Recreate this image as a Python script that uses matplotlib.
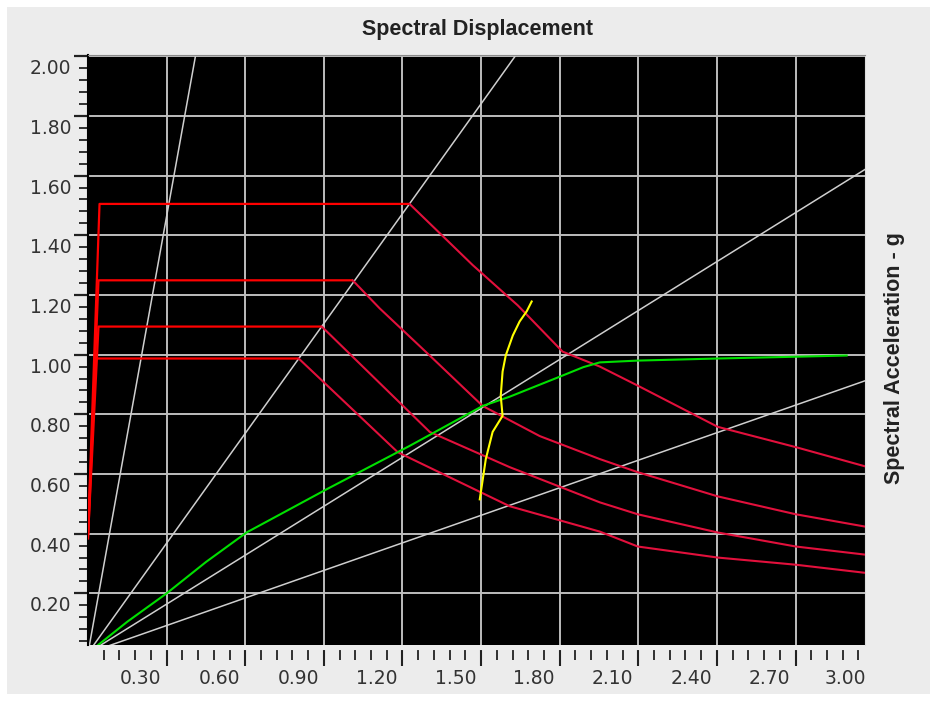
import matplotlib
matplotlib.use("Agg")
import numpy as np
import matplotlib.pyplot as plt
import matplotlib.transforms as mtrans
from matplotlib.patches import Rectangle
from matplotlib.ticker import MultipleLocator, FixedLocator, FormatStrFormatter

# demand spectra (Sd, Sa)
sd_a = [0.0, 0.044, 1.227, 1.468, 1.640, 1.811, 1.953, 2.098, 2.403, 2.701, 2.964]
sa_a = [0.40, 1.505, 1.505, 1.300, 1.165, 1.010, 0.960, 0.896, 0.758, 0.690, 0.626]
sd_b = [0.0, 0.040, 1.010, 1.113, 1.304, 1.506, 1.724, 1.953, 2.098, 2.403, 2.701, 2.964]
sa_b = [0.40, 1.249, 1.249, 1.155, 0.997, 0.828, 0.727, 0.650, 0.606, 0.525, 0.465, 0.424]
sd_c = [0.0, 0.040, 0.892, 1.304, 1.609, 1.953, 2.098, 2.403, 2.701, 2.964]
sa_c = [0.39, 1.094, 1.094, 0.741, 0.623, 0.505, 0.465, 0.404, 0.357, 0.330]
sd_d = [0.0, 0.029, 0.804, 1.182, 1.609, 1.953, 2.098, 2.403, 2.701, 2.964]
sa_d = [0.38, 0.987, 0.987, 0.673, 0.492, 0.407, 0.357, 0.320, 0.296, 0.269]
demand = [(sd_a, sa_a), (sd_b, sa_b), (sd_c, sa_c), (sd_d, sa_d)]

# capacity curve
sd_cap = [0.0, 0.15, 0.30, 0.45, 0.605, 0.911, 1.227, 1.506, 1.609, 1.72, 1.80, 1.89, 1.953,
          2.098, 2.403, 2.701, 2.895]
sa_cap = [0.0, 0.105, 0.200, 0.305, 0.404, 0.549, 0.694, 0.828, 0.859, 0.898, 0.926, 0.958,
          0.974, 0.980, 0.987, 0.993, 0.997]

# performance point locus (yellow)
sd_pp = [1.495, 1.518, 1.544, 1.582, 1.575, 1.582, 1.594, 1.621, 1.647, 1.674, 1.693]
sa_pp = [0.515, 0.650, 0.741, 0.795, 0.862, 0.943, 0.997, 1.064, 1.111, 1.145, 1.178]

# constant period lines, end points
per_sd = [0.41, 1.63, 2.964, 2.964]
per_sa = [2.0, 2.0, 1.620, 0.912]

x_major = [0.3, 0.6, 0.9, 1.2, 1.5, 1.8, 2.1, 2.4, 2.7]

bg = "#ececec"
fig = plt.figure(figsize=(9.37, 7.01), dpi=100, facecolor="white")
fig.patches.append(Rectangle((7 / 937, 7 / 701), 923 / 937, 687 / 701,
                             transform=fig.transFigure, facecolor=bg,
                             edgecolor="none", zorder=-10))
ax = fig.add_axes([88 / 937, 1 - 645 / 701, 777 / 937, 590 / 701])
ax.set_facecolor("black")

ax.set_xlim(0, 2.965)
ax.set_ylim(0.027, 2.004)

ax.xaxis.set_major_locator(FixedLocator(x_major))
ax.xaxis.set_minor_locator(FixedLocator(np.arange(0.06, 2.965, 0.06)))
ax.yaxis.set_major_locator(MultipleLocator(0.2))
ax.yaxis.set_minor_locator(MultipleLocator(0.04))
ax.xaxis.set_major_formatter(FormatStrFormatter("%.2f"))
ax.yaxis.set_major_formatter(FormatStrFormatter("%.2f"))

ax.grid(True, which="major", color="#bdbdbd", lw=1.4)
ax.set_axisbelow(True)

for x, y in zip(per_sd, per_sa):
    ax.plot([0, x], [0, y], color="#cfcfcf", lw=1.1, zorder=2)

for sd, sa in demand:
    ax.plot(sd[:3], sa[:3], color="#ff0000", lw=1.6, zorder=3, solid_capstyle="butt")
    ax.plot(sd[2:], sa[2:], color="#e2103c", lw=1.5, zorder=3)

ax.plot(sd_cap, sa_cap, color="#00e000", lw=1.5, zorder=4)
ax.plot(sd_pp, sa_pp, color="#ffff00", lw=1.5, zorder=5)

ax.spines["left"].set_color("black")
ax.spines["left"].set_linewidth(1.5)
ax.spines["top"].set_color("#8a8a8a")
ax.spines["right"].set_color("#dddddd")
ax.spines["bottom"].set_position(("outward", 3))
ax.spines["bottom"].set_color(bg)

ax.tick_params(axis="x", which="major", length=12, width=1.5, color="#222222",
               labelsize=13.5, labelcolor="#333333", pad=2)
ax.tick_params(axis="x", which="minor", length=8, width=1.3, color="#222222")
ax.tick_params(axis="y", which="major", length=10, width=1.6, color="#222222",
               labelsize=13.5, labelcolor="#333333", pad=2)
ax.tick_params(axis="y", which="minor", length=6.5, width=1.3, color="#222222")

# labels sit beside their ticks, as in the original software
off_x = mtrans.ScaledTranslation(-0.05, 0, fig.dpi_scale_trans)
for lab in ax.get_xticklabels():
    lab.set_ha("right")
    lab.set_transform(lab.get_transform() + off_x)
off_y = mtrans.ScaledTranslation(0, -0.03, fig.dpi_scale_trans)
for lab in ax.get_yticklabels():
    lab.set_va("top")
    lab.set_transform(lab.get_transform() + off_y)

ax.text(3.0, 0, "3.00", ha="right", va="top", fontsize=13.5, color="#333333",
        clip_on=False,
        transform=ax.get_xaxis_transform()
        + mtrans.ScaledTranslation(-0.08, -0.235, fig.dpi_scale_trans))

fig.text(478 / 937, 1 - 30 / 701, "Spectral Displacement", ha="center", va="center",
         fontsize=15.5, fontweight="bold", color="#222222", family="Liberation Sans")
fig.text(895 / 937, 1 - 358 / 701, "Spectral Acceleration - g", ha="center", va="center",
         rotation=90, fontsize=15.5, fontweight="bold", color="#222222",
         family="Liberation Sans")

fig.savefig("out.png", dpi=100, facecolor=fig.get_facecolor())
